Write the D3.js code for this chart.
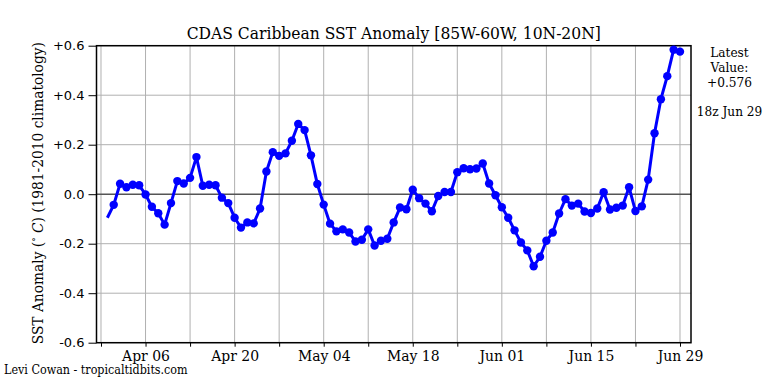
<!DOCTYPE html>
<html><head><meta charset="utf-8">
<script src="https://cdn.jsdelivr.net/npm/d3@7"></script>
<style>
html,body{margin:0;padding:0;background:#fff;}
svg{display:block;}
.serif{font-family:"DejaVu Serif";font-stretch:condensed;}
</style></head>
<body>
<script>
// ---- data ----
const startDate = "2024-03-31"; // first value (line start, no marker)
const values = [
 -0.095,
 -0.043, 0.042, 0.028, 0.038, 0.036, -0.001, -0.051, -0.077, -0.123, -0.036,
  0.053, 0.043, 0.066, 0.150, 0.034, 0.038, 0.036, -0.014, -0.036, -0.095,
 -0.135, -0.114, -0.118, -0.058, 0.092, 0.170, 0.155, 0.165, 0.216, 0.284,
  0.259, 0.157, 0.041, -0.042, -0.119, -0.150, -0.142, -0.155, -0.191, -0.184,
 -0.142, -0.207, -0.188, -0.180, -0.114, -0.054, -0.061, 0.018, -0.016, -0.038,
 -0.069, -0.007, 0.009, 0.009, 0.089, 0.105, 0.101, 0.104, 0.124, 0.043,
 -0.004, -0.053, -0.095, -0.146, -0.195, -0.227, -0.291, -0.253, -0.188, -0.155,
 -0.078, -0.020, -0.046, -0.038, -0.070, -0.076, -0.058, 0.008, -0.062, -0.055,
 -0.046, 0.028, -0.068, -0.049, 0.059, 0.246, 0.384, 0.477, 0.584, 0.576
];
const yTicks = [0.6, 0.4, 0.2, 0.0, -0.2, -0.4, -0.6];
const yTickLabels = ["+0.6", "+0.4", "+0.2", "0.0", "-0.2", "-0.4", "-0.6"];
const xTickDates = ["2024-03-30","2024-04-06","2024-04-13","2024-04-20","2024-04-27","2024-05-04","2024-05-11","2024-05-18","2024-05-25","2024-06-01","2024-06-08","2024-06-15","2024-06-22","2024-06-29"];
const xTickLabels = ["", "Apr 06", "", "Apr 20", "", "May 04", "", "May 18", "", "Jun 01", "", "Jun 15", "", "Jun 29"];
const title = "CDAS Caribbean SST Anomaly [85W-60W, 10N-20N]";
const latestLines = ["Latest", "Value:", "+0.576"];
const latestTime = "18z Jun 29";
const credit = "Levi Cowan - tropicaltidbits.com";

// ---- layout ----
const W = 768, H = 384;
const m = {left: 96.5, right: 691, top: 45.7, bottom: 342.7};
const parse = d3.utcParse("%Y-%m-%d");
const day = 86400000;
const t0 = parse(startDate);
const data = values.map((v, i) => ({date: new Date(t0.getTime() + i * day), v}));

const x = d3.scaleUtc()
  .domain([new Date(parse("2024-03-30").getTime() - 0.707 * day), new Date(parse("2024-06-29").getTime() + 1.73 * day)])
  .range([m.left, m.right]);
const y = d3.scaleLinear().domain([-0.6, 0.6]).range([m.bottom, m.top]);

const svg = d3.select("body").append("svg").attr("width", W).attr("height", H);

// grid
const xt = xTickDates.map(parse);
svg.append("g").selectAll("line").data(xt).join("line")
  .attr("x1", d => x(d)).attr("x2", d => x(d)).attr("y1", m.top).attr("y2", m.bottom)
  .attr("stroke", "#b0b0b0").attr("stroke-width", 1);
svg.append("g").selectAll("line").data(yTicks.filter(d => d !== 0)).join("line")
  .attr("x1", m.left).attr("x2", m.right).attr("y1", d => y(d)).attr("y2", d => y(d))
  .attr("stroke", "#b0b0b0").attr("stroke-width", 1);
// zero line
svg.append("line").attr("x1", m.left).attr("x2", m.right).attr("y1", y(0)).attr("y2", y(0))
  .attr("stroke", "#555").attr("stroke-width", 1.5);

// axes
const xAxis = d3.axisBottom(x).tickValues(xt).tickSize(4).tickPadding(3.5)
  .tickFormat((d, i) => xTickLabels[i]);
const gx = svg.append("g").attr("transform", `translate(0,${m.bottom})`).call(xAxis);
gx.select(".domain").remove();
gx.selectAll(".tick line").attr("stroke", "#000").attr("stroke-width", 1);
gx.selectAll(".tick text").attr("class", "serif").attr("font-size", 15.5).attr("fill", "#000");

const yAxis = d3.axisLeft(y).tickValues(yTicks).tickSize(8).tickPadding(4)
  .tickFormat((d, i) => yTickLabels[i]);
const gy = svg.append("g").attr("transform", `translate(${m.left},0)`).call(yAxis);
gy.select(".domain").remove();
gy.selectAll(".tick line").attr("stroke", "#000");
gy.selectAll(".tick text").attr("font-family", "DejaVu Sans").attr("font-size", 13).attr("fill", "#000");

// frame
svg.append("rect").attr("x", m.left).attr("y", m.top).attr("width", m.right - m.left).attr("height", m.bottom - m.top)
  .attr("fill", "none").attr("stroke", "#000").attr("stroke-width", 1.5);

// line + markers
const line = d3.line().x(d => x(d.date)).y(d => y(d.v));
svg.append("path").datum(data).attr("d", line).attr("fill", "none")
  .attr("stroke", "#0000ff").attr("stroke-width", 3).attr("stroke-linejoin", "round");
svg.append("g").selectAll("circle").data(data.slice(1)).join("circle")
  .attr("cx", d => x(d.date)).attr("cy", d => y(d.v)).attr("r", 4.2).attr("fill", "#0000ff");

// title
svg.append("text").attr("class", "serif").attr("x", (m.left + m.right) / 2).attr("y", 39)
  .attr("text-anchor", "middle").attr("font-size", 17.3).text(title);

// y label
const yl = svg.append("text").attr("class", "serif").attr("font-size", 15.3)
  .attr("transform", `translate(43,${(m.top + m.bottom) / 2 - 1}) rotate(-90)`).attr("text-anchor", "middle");
yl.append("tspan").text("SST Anomaly (");
yl.append("tspan").attr("font-size", 10).attr("dy", -6).text("∘");
yl.append("tspan").attr("dy", 6).attr("font-style", "italic").text(" C");
yl.append("tspan").text(") (1981-2010 climatology)");

// latest annotation
const lx = 729.5;
latestLines.forEach((s, i) => {
  svg.append("text").attr("class", "serif").attr("x", lx).attr("y", 56.5 + i * 15)
    .attr("text-anchor", "middle").attr("font-size", 13.5).text(s);
});
svg.append("text").attr("class", "serif").attr("x", lx).attr("y", 116)
  .attr("text-anchor", "middle").attr("font-size", 13.5).text(latestTime);

// credit
svg.append("text").attr("class", "serif").attr("x", 4).attr("y", 373.5).attr("font-size", 12.4).text(credit);
</script>
</body></html>
